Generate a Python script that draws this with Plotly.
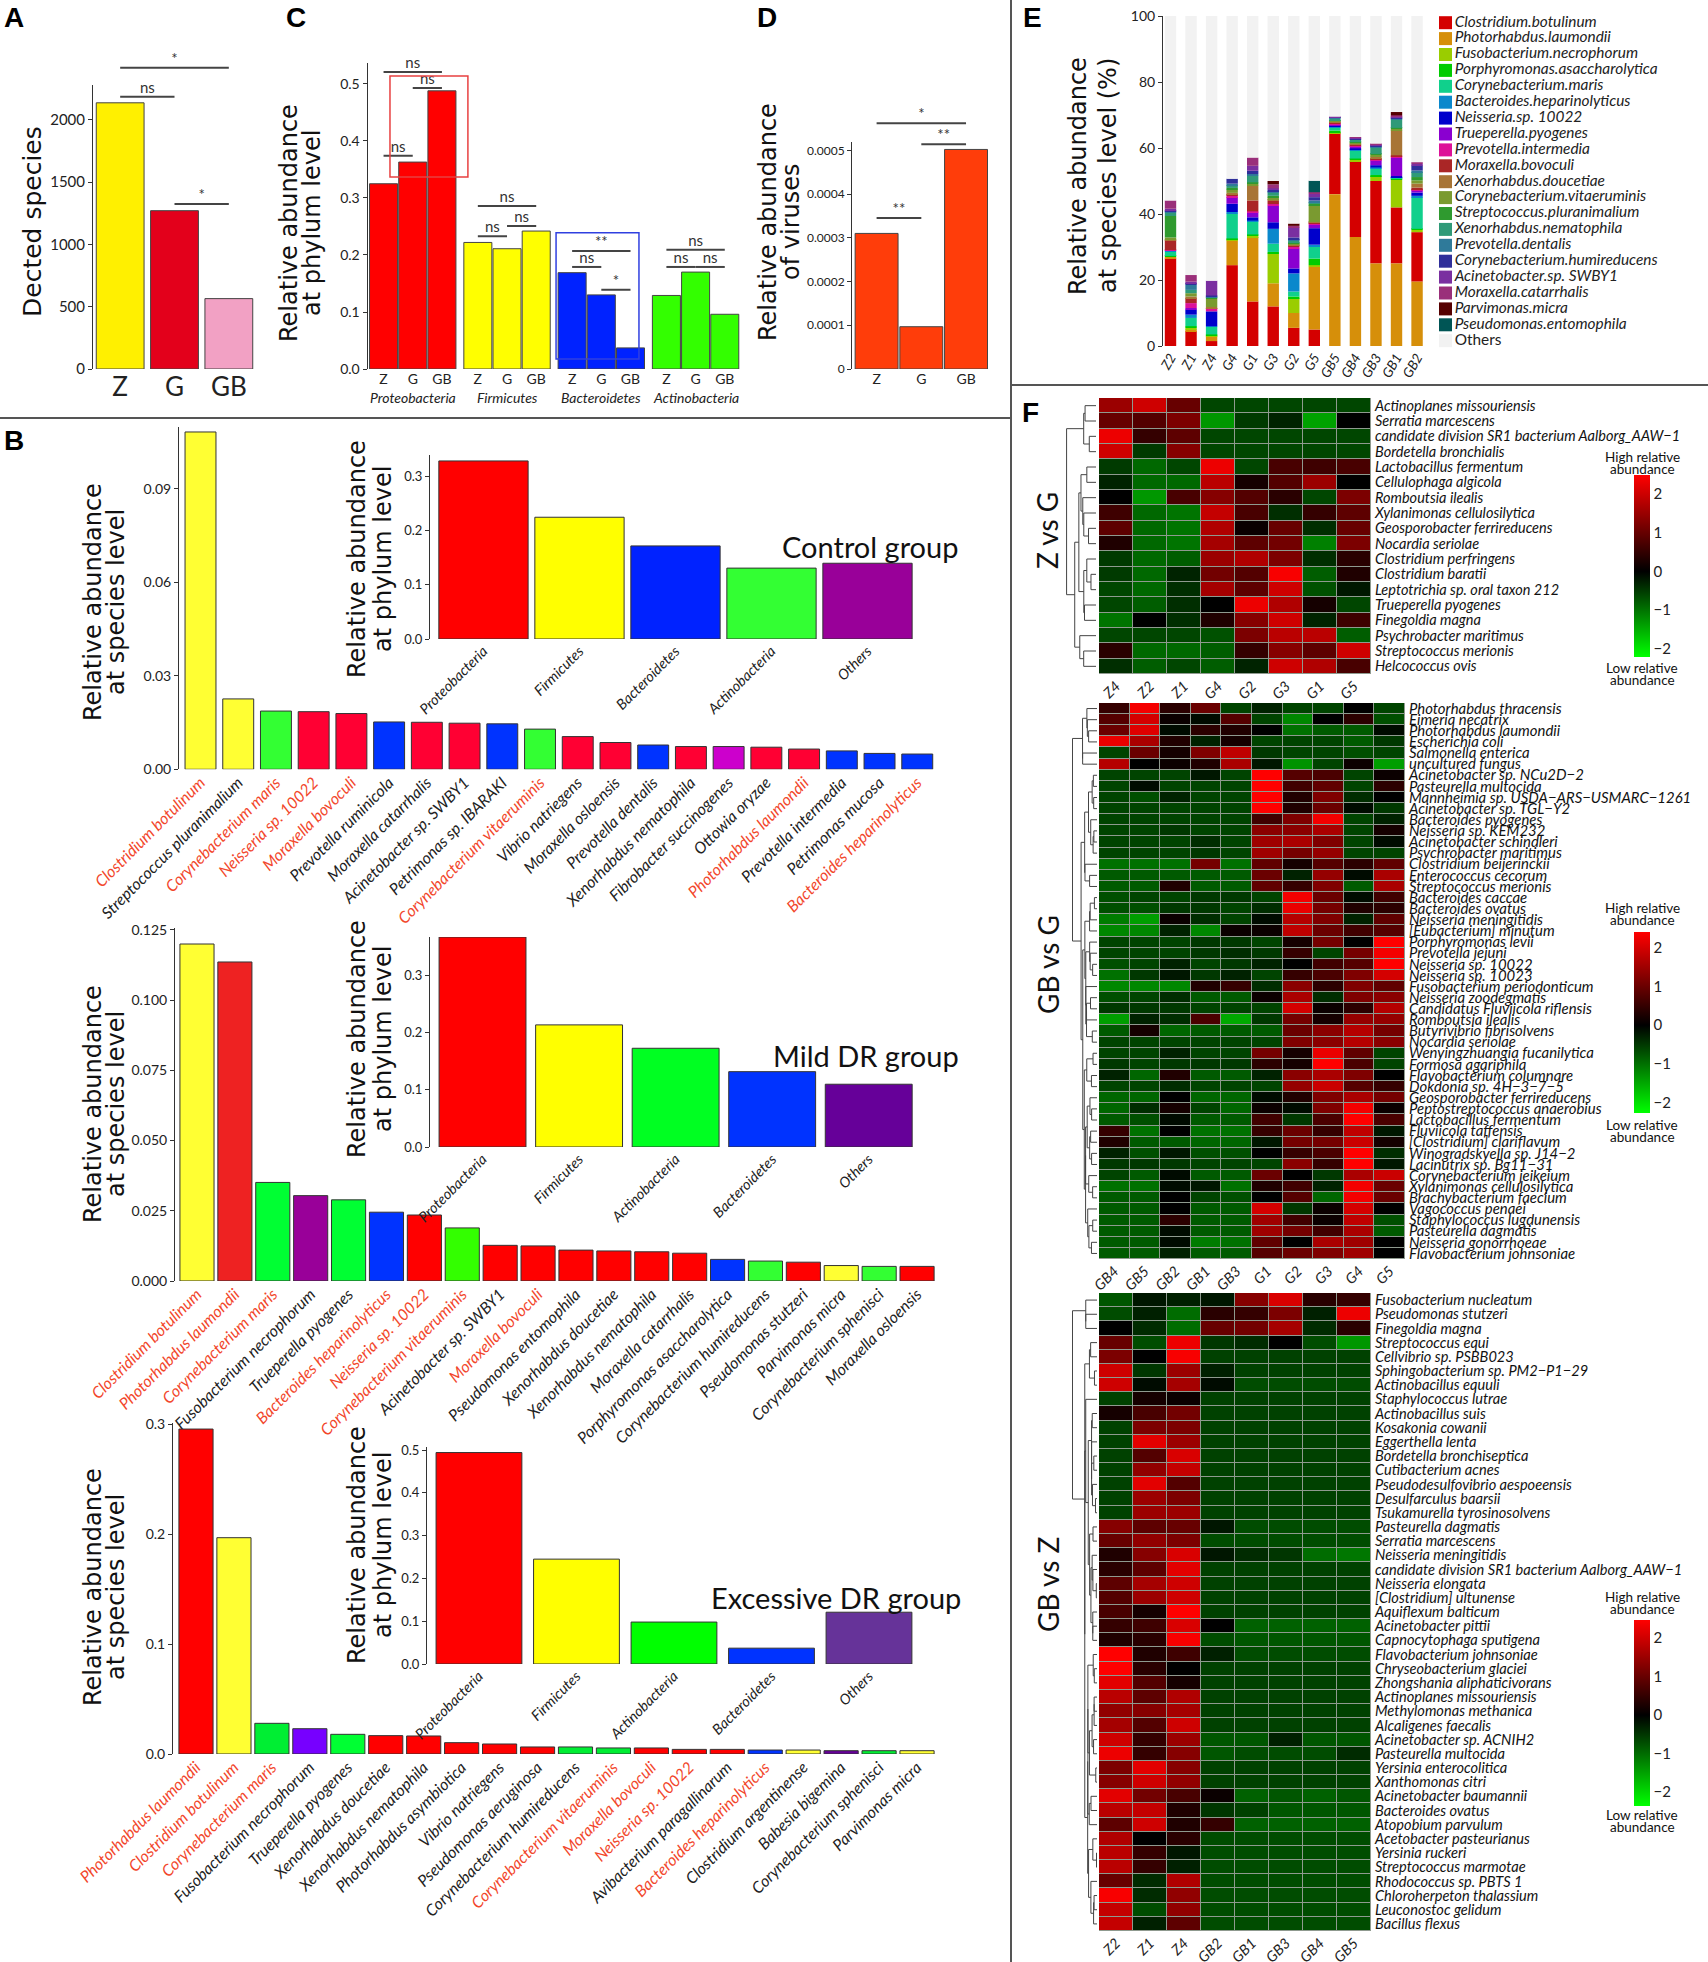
import numpy as np
import plotly.graph_objects as go

W, H = 1708, 1962


def fx(px):
    return px / W


def fy(py):
    return 1 - py / H


# ============================ DATA ============================
# ---- Panel A ----
groups = ['Z', 'G', 'GB']
detected_species = [2137, 1271, 565]
a_colors = ['#fff000', '#e3001b', '#f2a1c4']
a_brackets = [(0, 1, 'ns', 2185), (1, 2, '*', 1325), (0, 2, '*', 2418)]

# ---- Panel C ----
c_phyla = ['Proteobacteria', 'Firmicutes', 'Bacteroidetes', 'Actinobacteria']
c_Z = [0.325, 0.222, 0.169, 0.129]
c_G = [0.363, 0.211, 0.130, 0.170]
c_GB = [0.488, 0.242, 0.037, 0.096]
c_colors = ['#ff0000', '#ffff00', '#0022ff', '#33ff00']
# (phylum index, from group, to group, label, y)
c_brackets = [(0, 0, 2, 'ns', 0.521), (0, 1, 2, 'ns', 0.493), (0, 0, 1, 'ns', 0.374),
              (1, 0, 2, 'ns', 0.286), (1, 1, 2, 'ns', 0.251), (1, 0, 1, 'ns', 0.233),
              (2, 0, 2, '**', 0.207), (2, 0, 1, 'ns', 0.179), (2, 1, 2, '*', 0.139),
              (3, 0, 2, 'ns', 0.209), (3, 0, 1, 'ns', 0.179), (3, 1, 2, 'ns', 0.179)]
# highlight boxes: (phylum index, x from, x to (bar units), y from, y to, colour)
c_boxes = [(0, 0.22, 2.89, 0.337, 0.514, '#e84040'), (2, -0.55, 2.29, 0.0175, 0.239, '#3040e0')]

# ---- Panel D ----
d_virus = [0.000310, 0.0000967, 0.000502]
d_color = '#ff3d0a'
d_ticks = [0, 0.0001, 0.0002, 0.0003, 0.0004, 0.0005]
d_brackets = [(0, 1, '**', 0.000345), (1, 2, '**', 0.000514), (0, 2, '*', 0.000562)]

# ---- Panel E ----
e_samples = ['Z2', 'Z1', 'Z4', 'G4', 'G1', 'G3', 'G2', 'G5', 'GB5', 'GB4', 'GB3', 'GB1', 'GB2']
e_species = ['Clostridium.botulinum', 'Photorhabdus.laumondii', 'Fusobacterium.necrophorum',
             'Porphyromonas.asaccharolytica', 'Corynebacterium.maris', 'Bacteroides.heparinolyticus',
             'Neisseria.sp. 10022', 'Trueperella.pyogenes', 'Prevotella.intermedia', 'Moraxella.bovoculi',
             'Xenorhabdus.doucetiae', 'Corynebacterium.vitaeruminis', 'Streptococcus.pluranimalium',
             'Xenorhabdus.nematophila', 'Prevotella.dentalis', 'Corynebacterium.humireducens',
             'Acinetobacter.sp. SWBY1', 'Moraxella.catarrhalis', 'Parvimonas.micra', 'Pseudomonas.entomophila']
e_colors = ['#d40000', '#d68f0a', '#9acd00', '#00cc00', '#10d08c', '#0a88cc', '#0000cc', '#8a00d0',
            '#dd1199', '#aa2626', '#a87536', '#7a9a30', '#2f9a2f', '#2f9a78', '#2f7a9a', '#2f2f9a',
            '#7a2fa0', '#9a2f7a', '#550000', '#005555']
e_others_color = '#f2f2f2'
e_abundance = [
    [26.5, 4.5, 1.5, 24.5, 13.5, 12.0, 5.5, 5.0, 18.5, 23.0, 25.0, 17.0, 15.0],
    [0.5, 0.5, 1.5, 7.5, 19.5, 7.0, 4.5, 19.0, 46.0, 33.0, 25.0, 25.0, 19.5],
    [0.0, 0.5, 0.3, 0.3, 0.5, 9.0, 4.5, 0.5, 0.3, 0.5, 1.5, 8.5, 0.7],
    [0.3, 0.5, 0.2, 0.3, 0.3, 0.5, 0.5, 2.0, 0.5, 0.3, 0.3, 0.2, 0.3],
    [1.2, 2.5, 2.3, 7.5, 4.0, 2.5, 1.5, 3.5, 1.0, 2.5, 2.0, 0.3, 9.5],
    [0.3, 1.0, 0.2, 0.5, 0.2, 4.5, 5.5, 0.7, 0.3, 0.3, 0.3, 0.2, 0.5],
    [0.0, 1.5, 4.5, 2.5, 1.0, 2.0, 1.5, 5.0, 0.2, 0.3, 0.7, 0.3, 1.0],
    [0.0, 0.5, 0.0, 2.0, 1.5, 5.0, 6.0, 1.0, 0.3, 0.7, 1.5, 5.5, 0.7],
    [0.3, 1.5, 0.8, 0.5, 0.3, 0.5, 0.5, 0.3, 0.2, 0.2, 0.3, 0.3, 0.3],
    [3.0, 1.5, 0.2, 0.3, 3.3, 1.0, 0.5, 0.3, 0.3, 0.2, 0.3, 0.5, 0.5],
    [0.3, 0.5, 0.3, 0.5, 4.5, 0.5, 0.3, 0.3, 0.3, 0.5, 0.5, 7.5, 1.2],
    [0.5, 1.0, 2.5, 1.0, 0.5, 0.5, 0.3, 5.0, 0.3, 0.3, 0.5, 0.5, 1.0],
    [6.5, 0.0, 0.5, 0.5, 0.5, 0.5, 0.3, 0.5, 0.2, 0.2, 0.3, 0.3, 1.0],
    [1.0, 1.0, 0.0, 0.8, 2.0, 1.0, 0.5, 0.5, 0.5, 0.5, 2.0, 2.5, 1.5],
    [0.5, 1.5, 0.2, 0.5, 0.5, 0.3, 0.5, 0.5, 0.2, 0.2, 0.3, 0.3, 0.5],
    [0.2, 0.5, 0.3, 1.5, 1.0, 0.5, 0.5, 1.0, 0.2, 0.2, 0.3, 0.2, 1.5],
    [0.5, 0.5, 4.5, 0.0, 1.5, 0.5, 3.0, 1.0, 0.2, 0.2, 0.2, 0.3, 0.5],
    [2.5, 2.0, 0.0, 0.0, 2.5, 1.2, 0.5, 0.5, 0.0, 0.2, 0.3, 0.5, 0.5],
    [0.0, 0.0, 0.0, 0.0, 0.0, 1.0, 0.7, 0.0, 0.0, 0.0, 0.0, 1.0, 0.0],
    [0.0, 0.0, 0.0, 0.0, 0.0, 0.0, 0.0, 3.5, 0.0, 0.0, 0.0, 0.0, 0.0],
]
# species drawn at the bottom of each stacked bar
e_bottom_species = ['Clostridium.botulinum'] * 8 + ['Photorhabdus.laumondii'] * 5

# ---- Panel B ----
red_label_species = ['Clostridium botulinum', 'Corynebacterium maris', 'Neisseria sp. 10022',
                     'Moraxella bovoculi', 'Corynebacterium vitaeruminis', 'Photorhabdus laumondii',
                     'Bacteroides heparinolyticus']

b_control_species = ['Clostridium botulinum', 'Streptococcus pluranimalium', 'Corynebacterium maris',
                     'Neisseria sp. 10022', 'Moraxella bovoculi', 'Prevotella ruminicola',
                     'Moraxella catarrhalis', 'Acinetobacter sp. SWBY1', 'Petrimonas sp. IBARAKI',
                     'Corynebacterium vitaeruminis', 'Vibrio natriegens', 'Moraxella osloensis',
                     'Prevotella dentalis', 'Xenorhabdus nematophila', 'Fibrobacter succinogenes',
                     'Ottowia oryzae', 'Photorhabdus laumondii', 'Prevotella intermedia',
                     'Petrimonas mucosa', 'Bacteroides heparinolyticus']
b_control_values = [0.1083, 0.0226, 0.0187, 0.0185, 0.0179, 0.0152, 0.0151, 0.0148, 0.0146, 0.0129,
                    0.0105, 0.0086, 0.0078, 0.0073, 0.0073, 0.0071, 0.0065, 0.0059, 0.0051, 0.0049]
b_control_colors = ['#ffff33', '#ffff33', '#33ff33', '#ff0033', '#ff0033', '#0033ff', '#ff0033',
                    '#ff0033', '#0033ff', '#33ff33', '#ff0033', '#ff0033', '#0033ff', '#ff0033',
                    '#cc00cc', '#ff0033', '#ff0033', '#0033ff', '#0033ff', '#0033ff']
b_control_phyla = ['Proteobacteria', 'Firmicutes', 'Bacteroidetes', 'Actinobacteria', 'Others']
b_control_phyla_values = [0.329, 0.225, 0.172, 0.131, 0.140]
b_control_phyla_colors = ['#ff0000', '#ffff00', '#0022ff', '#33ff33', '#990099']

b_mild_species = ['Clostridium botulinum', 'Photorhabdus laumondii', 'Corynebacterium maris',
                  'Fusobacterium necrophorum', 'Trueperella pyogenes', 'Bacteroides heparinolyticus',
                  'Neisseria sp. 10022', 'Corynebacterium vitaeruminis', 'Acinetobacter sp. SWBY1',
                  'Moraxella bovoculi', 'Pseudomonas entomophila', 'Xenorhabdus doucetiae',
                  'Xenorhabdus nematophila', 'Moraxella catarrhalis', 'Porphyromonas asaccharolytica',
                  'Corynebacterium humireducens', 'Pseudomonas stutzeri', 'Parvimonas micra',
                  'Corynebacterium sphenisci', 'Moraxella osloensis']
b_mild_values = [0.1200, 0.1136, 0.0351, 0.0304, 0.0289, 0.0245, 0.0235, 0.0189, 0.0127, 0.0125,
                 0.0110, 0.0107, 0.0104, 0.0099, 0.0077, 0.0071, 0.0067, 0.0055, 0.0052, 0.0052]
b_mild_colors = ['#ffff33', '#ee2222', '#00ff33', '#990099', '#00ff33', '#0033ff', '#ff0000',
                 '#33ff00', '#ff0000', '#ff0000', '#ff0000', '#ff0000', '#ff0000', '#ff0000',
                 '#0033ff', '#33ff33', '#ff0000', '#ffff33', '#33ff33', '#ff0000']
b_mild_phyla = ['Proteobacteria', 'Firmicutes', 'Actinobacteria', 'Bacteroidetes', 'Others']
b_mild_phyla_values = [0.368, 0.214, 0.173, 0.132, 0.110]
b_mild_phyla_colors = ['#ff0000', '#ffff00', '#00ff22', '#0033ff', '#660099']

b_exc_species = ['Photorhabdus laumondii', 'Clostridium botulinum', 'Corynebacterium maris',
                 'Fusobacterium necrophorum', 'Trueperella pyogenes', 'Xenorhabdus doucetiae',
                 'Xenorhabdus nematophila', 'Photorhabdus asymbiotica', 'Vibrio natriegens',
                 'Pseudomonas aeruginosa', 'Corynebacterium humireducens', 'Corynebacterium vitaeruminis',
                 'Moraxella bovoculi', 'Neisseria sp. 10022', 'Avibacterium paragallinarum',
                 'Bacteroides heparinolyticus', 'Clostridium argentinense', 'Babesia bigemina',
                 'Corynebacterium sphenisci', 'Parvimonas micra']
b_exc_values = [0.2955, 0.1967, 0.0279, 0.0230, 0.0179, 0.0167, 0.0164, 0.0103, 0.0091, 0.0064,
                0.0064, 0.0055, 0.0055, 0.0042, 0.0042, 0.0036, 0.0036, 0.0030, 0.0030, 0.0030]
b_exc_colors = ['#ff0000', '#ffff33', '#00ee33', '#7700ff', '#00ff33', '#ff0000', '#ff0000',
                '#ff0000', '#ff0000', '#ff0000', '#00ee33', '#00ee33', '#ff0000', '#ff0000',
                '#ff0000', '#0033ff', '#ffff33', '#660099', '#00ee33', '#ffff33']
b_exc_phyla = ['Proteobacteria', 'Firmicutes', 'Actinobacteria', 'Bacteroidetes', 'Others']
b_exc_phyla_values = [0.494, 0.245, 0.098, 0.037, 0.121]
b_exc_phyla_colors = ['#ff0000', '#ffff00', '#00ff00', '#0033ff', '#663399']

# ---- Panel F: heatmaps (z-scores) ----
h1_cols = ['Z4', 'Z2', 'Z1', 'G4', 'G2', 'G3', 'G1', 'G5']
h1_rows = ['Actinoplanes missouriensis', 'Serratia marcescens',
           'candidate division SR1 bacterium Aalborg_AAW\u22121', 'Bordetella bronchialis',
           'Lactobacillus fermentum', 'Cellulophaga algicola', 'Romboutsia ilealis',
           'Xylanimonas cellulosilytica', 'Geosporobacter ferrireducens', 'Nocardia seriolae',
           'Clostridium perfringens', 'Clostridium baratii', 'Leptotrichia sp. oral taxon 212',
           'Trueperella pyogenes', 'Finegoldia magna', 'Psychrobacter maritimus',
           'Streptococcus merionis', 'Helcococcus ovis']
h1_values = [
    [1.5, 2.0, 1.0, -0.6, -0.6, -0.6, -0.6, -0.6],
    [1.0, 0.8, 1.2, -1.3, -0.5, -0.3, -1.4, 0.0],
    [2.3, 0.5, 0.9, -0.6, -0.6, -0.6, -0.6, -0.6],
    [2.0, -0.5, 1.3, -0.6, -0.6, -0.6, -0.6, -0.6],
    [-0.5, -0.9, -0.6, 2.3, -0.6, 0.7, 0.6, 0.7],
    [-0.3, -0.9, -0.9, 1.8, 0.2, 0.8, 1.5, 0.0],
    [0.0, -1.3, 0.7, 1.3, 0.8, 0.4, -0.6, 1.2],
    [0.6, -0.9, -1.0, 1.9, 0.7, -0.4, 0.5, 0.9],
    [0.9, -0.9, -1.0, 1.7, 0.1, 1.0, -0.4, 1.0],
    [0.3, -0.9, -1.0, 1.6, 0.9, 1.1, -1.1, 1.2],
    [-0.5, -0.9, -0.8, 1.5, 1.7, 1.2, -0.4, 0.4],
    [-0.5, -0.9, -0.3, 1.1, 0.8, 2.4, -0.8, 0.3],
    [-0.6, -0.9, -0.4, 1.6, 0.9, 2.0, -0.7, -0.2],
    [-0.6, -0.8, -0.4, 0.0, 2.3, 1.7, 0.2, -0.6],
    [-1.0, 0.0, -0.4, 0.3, 1.3, 2.0, -0.3, 0.6],
    [-0.6, -0.6, -0.6, -0.7, 1.2, 1.8, 1.8, -0.8],
    [0.4, -0.9, -0.9, -0.8, 0.5, 1.3, 0.9, 2.0],
    [-0.4, -0.8, -0.6, -0.8, -0.3, 2.0, 1.7, 0.7],
]

h2_cols = ['GB4', 'GB5', 'GB2', 'GB1', 'GB3', 'G1', 'G2', 'G3', 'G4', 'G5']
h2_rows = ['Photorhabdus thracensis', 'Eimeria necatrix', 'Photorhabdus laumondii', 'Escherichia coli',
           'Salmonella enterica', 'uncultured fungus', 'Acinetobacter sp. NCu2D\u22122',
           'Pasteurella multocida', 'Mannheimia sp. USDA\u2212ARS\u2212USMARC\u22121261',
           'Acinetobacter sp. TGL\u2212Y2', 'Bacteroides pyogenes', 'Neisseria sp. KEM232',
           'Acinetobacter schindleri', 'Psychrobacter maritimus', 'Clostridium beijerinckii',
           'Enterococcus cecorum', 'Streptococcus merionis', 'Bacteroides caccae', 'Bacteroides ovatus',
           'Neisseria meningitidis', '[Eubacterium] minutum', 'Porphyromonas levii', 'Prevotella jejuni',
           'Neisseria sp. 10022', 'Neisseria sp. 10023', 'Fusobacterium periodonticum',
           'Neisseria zoodegmatis', 'Candidatus Fluviicola riflensis', 'Romboutsia ilealis',
           'Butyrivibrio fibrisolvens', 'Nocardia seriolae', 'Wenyingzhuangia fucanilytica',
           'Formosa agariphila', 'Flavobacterium columnare', 'Dokdonia sp. 4H\u22123\u22127\u22125',
           'Geosporobacter ferrireducens', 'Peptostreptococcus anaerobius', 'Lactobacillus fermentum',
           'Fluviicola taffensis', '[Clostridium] clariflavum', 'Winogradskyella sp. J14\u22122',
           'Lacinutrix sp. Bg11\u221231', 'Corynebacterium jeikeium', 'Xylanimonas cellulosilytica',
           'Brachybacterium faecium', 'Vagococcus penaei', 'Staphylococcus lugdunensis',
           'Pasteurella dagmatis', 'Neisseria gonorrhoeae', 'Flavobacterium johnsoniae']
h2_values = [
    [0.5, 2.3, 0.4, 1.0, -0.6, -0.3, -0.6, -0.6, 0.0, -0.6],
    [0.8, 2.0, 0.1, -0.1, 0.8, -0.6, -1.2, 0.0, 0.4, -0.7],
    [1.0, 2.1, -0.1, 0.4, 0.3, 0.0, -1.0, -0.8, -0.8, -0.1],
    [2.2, 1.6, 0.3, -0.3, 0.2, -0.6, -0.6, -0.6, -0.8, -0.5],
    [-0.6, 1.0, 0.2, 1.2, 1.8, -0.5, -0.6, -0.6, -0.7, -0.6],
    [1.7, 0.0, 0.1, 0.3, 1.6, -0.2, -1.3, -0.6, 0.1, -1.4],
    [-0.6, -0.6, -0.6, -0.2, -0.6, 2.4, 0.8, 0.7, -0.6, 0.1],
    [-0.6, -0.1, -0.6, -0.6, -0.6, 2.4, 0.6, 0.9, -0.6, 0.4],
    [-0.6, -0.7, -0.3, -0.6, -0.6, 2.4, 0.3, 1.2, -0.4, 0.0],
    [-0.6, -0.6, -0.6, -0.6, -0.6, 2.4, 0.3, 1.0, -0.1, -0.5],
    [-0.6, -0.6, -0.6, -0.6, -0.6, 0.6, 1.2, 2.3, -0.6, -0.3],
    [-0.6, -0.6, -0.5, -0.6, -0.6, 1.3, 1.3, 1.6, -0.6, 0.2],
    [-0.6, -0.6, -0.6, -0.4, -0.6, 1.5, 1.6, 1.2, -0.6, -0.1],
    [-0.6, -0.6, -0.6, -0.5, -0.6, 1.5, 1.1, 1.4, -0.6, -0.6],
    [-1.0, -1.0, -1.0, 1.1, -1.0, 0.9, 0.2, 0.8, 0.4, 0.9],
    [-0.8, -0.8, -0.8, -0.8, -0.8, 1.0, -0.3, 1.4, -0.1, 1.6],
    [-0.8, -0.8, 0.3, -0.8, -0.8, 0.9, 0.5, 1.2, -0.8, 1.6],
    [-0.7, -0.6, -0.6, -0.5, -0.5, -0.6, 2.3, 1.0, -0.1, 0.6],
    [-0.7, -0.7, -0.5, -0.5, -0.6, -0.4, 2.2, 1.1, 0.3, 0.4],
    [-1.1, -1.4, 0.1, -0.4, -0.6, -0.1, 1.7, 1.2, -0.3, 0.9],
    [-1.2, -1.2, -0.3, -1.2, 0.1, 0.1, 1.8, 1.0, 0.6, 0.8],
    [-0.6, -0.6, -0.6, -0.5, -0.5, -0.6, 0.2, 1.1, 0.0, 2.4],
    [-0.6, -0.6, -0.6, -0.5, -0.4, -0.5, 0.5, -0.6, 1.1, 2.3],
    [-0.7, -0.6, -0.3, -0.6, -0.5, -0.3, 0.0, 0.6, 0.8, 2.4],
    [-1.0, -0.5, -0.2, -0.5, -0.3, -0.6, 0.5, 0.7, 1.2, 2.0],
    [-1.2, -1.2, -1.2, 0.3, 0.5, -0.4, 1.3, 0.4, 1.2, 0.9],
    [-0.7, -0.6, -0.4, -0.8, -0.8, 0.1, 1.6, -0.4, 1.2, 1.3],
    [-0.5, -0.5, -0.5, -0.6, -0.6, -0.6, 2.0, 0.1, 0.4, 1.7],
    [-1.4, -0.3, -0.4, 0.7, -1.5, -0.5, 1.1, 0.2, 1.4, 1.4],
    [-0.8, 0.2, -0.9, -0.8, -0.8, -0.8, 1.0, 1.3, 1.7, 1.1],
    [-0.6, -0.6, -0.6, -0.6, -0.6, -0.6, 1.2, 1.3, 1.7, 1.3],
    [-0.6, -0.6, -0.3, -0.6, -0.6, 1.1, 0.2, 2.2, 0.9, -0.6],
    [-0.5, -0.6, -0.5, -0.5, -0.5, 0.4, 0.2, 2.5, 0.7, -0.6],
    [-0.3, -0.9, 0.3, -0.8, -0.8, -0.3, 1.3, 1.6, 1.2, 0.0],
    [-0.6, -0.6, -0.4, -0.6, -0.6, -0.6, 1.4, 1.9, 0.8, 0.5],
    [-0.9, -0.9, 0.0, -0.9, -0.9, -0.1, 0.3, 1.2, 1.6, 1.1],
    [-0.9, -0.4, 0.2, -0.6, -0.9, 0.1, -0.1, 1.2, 2.3, 0.1],
    [-0.8, -0.7, -0.1, -0.8, -0.8, 0.6, -0.5, 0.7, 2.4, 0.7],
    [0.5, -1.0, 0.0, -1.0, -1.0, 0.5, 1.0, 0.5, 1.8, -0.2],
    [0.3, -0.8, -0.8, -0.9, -0.9, -0.2, 1.1, 1.1, 1.9, 0.2],
    [-0.3, -0.7, -0.2, -0.7, -0.7, 0.0, 0.5, 0.7, 2.5, -0.4],
    [-0.5, -0.5, -0.5, -0.6, -0.6, -0.6, 1.3, 0.5, 2.4, -0.2],
    [-0.6, -0.8, -0.1, -0.8, -0.8, 1.0, 0.0, -0.5, 1.6, 1.9],
    [-1.0, -1.0, -0.1, -0.2, -1.0, 0.3, 0.6, -0.3, 2.3, 1.0],
    [-0.8, -0.8, 0.0, -0.6, -0.7, 0.0, 0.8, -0.9, 2.3, 1.0],
    [-0.8, -0.8, 0.0, -0.8, -0.8, 2.0, -0.5, 0.1, 2.0, 0.0],
    [-0.8, -0.8, 0.4, -0.8, -0.8, 1.5, 0.6, 0.1, 1.8, -0.7],
    [-0.8, -0.8, -0.1, -0.8, -0.8, 1.5, 1.1, 0.6, 1.6, -0.8],
    [-0.8, -0.8, -0.1, -1.1, -1.0, 0.9, 0.0, 1.6, 1.5, 0.0],
    [-0.8, -0.8, -0.3, -0.8, -0.8, 0.8, 1.0, 1.2, 1.5, 0.0],
]

h3_cols = ['Z2', 'Z1', 'Z4', 'GB2', 'GB1', 'GB3', 'GB4', 'GB5']
h3_rows = ['Fusobacterium nucleatum', 'Pseudomonas stutzeri', 'Finegoldia magna', 'Streptococcus equi',
           'Cellvibrio sp. PSBB023', 'Sphingobacterium sp. PM2\u2212P1\u221229', 'Actinobacillus equuli',
           'Staphylococcus lutrae', 'Actinobacillus suis', 'Kosakonia cowanii', 'Eggerthella lenta',
           'Bordetella bronchiseptica', 'Cutibacterium acnes', 'Pseudodesulfovibrio aespoeensis',
           'Desulfarculus baarsii', 'Tsukamurella tyrosinosolvens', 'Pasteurella dagmatis',
           'Serratia marcescens', 'Neisseria meningitidis',
           'candidate division SR1 bacterium Aalborg_AAW\u22121', 'Neisseria elongata',
           '[Clostridium] ultunense', 'Aquiflexum balticum', 'Acinetobacter pittii',
           'Capnocytophaga sputigena', 'Flavobacterium johnsoniae', 'Chryseobacterium glaciei',
           'Zhongshania aliphaticivorans', 'Actinoplanes missouriensis', 'Methylomonas methanica',
           'Alcaligenes faecalis', 'Acinetobacter sp. ACNIH2', 'Pasteurella multocida',
           'Yersinia enterocolitica', 'Xanthomonas citri', 'Acinetobacter baumannii', 'Bacteroides ovatus',
           'Atopobium parvulum', 'Acetobacter pasteurianus', 'Yersinia ruckeri', 'Streptococcus marmotae',
           'Rhodococcus sp. PBTS 1', 'Chloroherpeton thalassium', 'Leuconostoc gelidum', 'Bacillus flexus']
h3_values = [
    [-0.8, -0.2, -0.3, -0.2, 1.3, 2.1, 0.4, 0.5],
    [-0.7, -0.3, -1.0, 0.4, 0.5, 1.2, -0.3, 2.3],
    [0.0, -0.4, -1.0, 1.0, 1.1, 1.6, -0.4, 0.4],
    [1.0, -0.7, 2.3, -0.5, -0.4, 0.0, -0.7, -1.4],
    [1.2, 0.0, 2.4, -0.6, -0.6, -0.6, -0.6, -0.6],
    [2.0, -0.5, 1.5, -0.3, -0.6, -0.6, -0.6, -0.6],
    [2.0, -0.1, 1.6, -0.1, -0.7, -0.7, -0.7, -0.7],
    [-0.6, 0.2, 0.1, -0.6, -0.6, -0.6, -0.6, -0.6],
    [0.2, 0.7, 1.1, -0.6, -0.6, -0.6, -0.6, -0.6],
    [-0.6, 1.2, 1.2, -0.6, -0.6, -0.6, -0.6, -0.6],
    [-0.6, 2.2, 1.5, -0.6, -0.6, -0.6, -0.6, -0.6],
    [-0.6, 0.8, 2.1, -0.6, -0.6, -0.6, -0.6, -0.6],
    [-0.6, 1.4, 1.9, -0.6, -0.6, -0.6, -0.6, -0.6],
    [-0.6, 2.2, 0.8, -0.6, -0.6, -0.6, -0.6, -0.6],
    [-0.6, 1.5, 1.2, -0.6, -0.6, -0.6, -0.6, -0.6],
    [-0.6, 1.5, 1.5, -0.6, -0.6, -0.6, -0.6, -0.6],
    [1.3, 0.9, 1.0, -0.2, -0.7, -0.7, -0.7, -0.7],
    [1.0, 1.4, 1.2, -0.7, -0.7, -0.7, -0.7, -0.7],
    [0.3, 1.3, 2.1, -0.2, -0.4, -0.5, -1.0, -1.1],
    [0.4, 0.9, 2.2, -0.6, -0.6, -0.6, -0.6, -0.6],
    [0.9, 1.6, 2.0, -0.6, -0.6, -0.6, -0.6, -0.6],
    [0.8, 1.5, 2.0, -0.6, -0.6, -0.6, -0.6, -0.6],
    [0.7, 0.2, 2.5, -0.6, -0.6, -0.6, -0.6, -0.6],
    [0.5, 0.6, 2.1, 0.0, -0.9, -0.9, -0.9, -0.9],
    [0.3, 0.4, 2.4, -0.7, -0.8, -0.8, -0.8, -0.8],
    [2.5, 0.3, 0.6, -0.3, -0.7, -0.7, -0.7, -0.7],
    [2.5, 0.4, 0.0, -0.6, -0.6, -0.6, -0.6, -0.6],
    [2.2, 0.8, 0.2, -0.6, -0.6, -0.6, -0.6, -0.6],
    [1.8, 0.9, 1.7, -0.6, -0.6, -0.6, -0.6, -0.6],
    [1.4, 1.3, 1.6, -0.6, -0.6, -0.6, -0.6, -0.6],
    [1.6, 0.8, 2.0, -0.6, -0.6, -0.6, -0.6, -0.6],
    [2.0, 0.5, 1.5, -0.8, -0.8, -0.3, -0.8, -0.8],
    [2.3, 0.5, 1.3, -0.8, -0.7, -0.7, -0.7, -0.4],
    [1.2, 2.2, 1.3, -0.6, -0.6, -0.6, -0.6, -0.6],
    [1.3, 2.0, 1.4, -0.6, -0.6, -0.6, -0.6, -0.6],
    [2.2, 1.1, 0.7, 0.1, -0.9, -0.8, -0.9, -0.8],
    [1.8, 1.9, 0.3, -0.5, -0.6, -0.8, -0.8, -0.8],
    [0.9, 2.0, 0.3, 0.5, -0.9, -0.9, -0.9, -0.9],
    [1.7, 0.0, 0.4, -0.7, -0.7, -0.7, -0.7, -0.7],
    [1.8, 0.5, -0.2, -0.7, -0.7, -0.7, -0.7, -0.7],
    [1.8, 0.5, -0.3, -0.7, -0.7, -0.7, -0.7, -0.7],
    [1.0, -0.4, 1.7, -0.7, -0.7, -0.7, -0.7, -0.7],
    [2.4, -0.4, 1.4, -0.7, -0.7, -0.7, -0.7, -0.7],
    [1.9, -0.7, 1.4, -0.7, -0.7, -0.7, -0.7, -0.7],
    [1.9, -0.3, 0.9, -0.7, -0.7, -0.7, -0.7, -0.7],
]

# ============================ BUILD ============================
fig = go.Figure()
annotations = []
shapes = []
axes = {}
counter = [0]

TITLE_FONT = 'DejaVu Sans'
BASE_FONT = 'Lato'
RED_LABEL = '#f2472c'


def new_axes(xdom, ydom, xkw, ykw):
    counter[0] += 1
    n = counter[0]
    s = '' if n == 1 else str(n)
    xkw = dict(xkw)
    ykw = dict(ykw)
    xkw.update(domain=[fx(xdom[0]), fx(xdom[1])], anchor='y' + s, automargin=False, fixedrange=True)
    ykw.update(domain=[fy(ydom[0]), fy(ydom[1])], anchor='x' + s, automargin=False, fixedrange=True)
    axes['xaxis' + s] = xkw
    axes['yaxis' + s] = ykw
    return 'x' + s, 'y' + s


def new_ext_yaxis(anchor_x, ydom, yrange, ext_top_px):
    """hidden y axis with the same scale as the main one but taller (for brackets)."""
    counter[0] += 1
    s = str(counter[0])
    scale = (ydom[0] - ydom[1]) / (yrange[1] - yrange[0])
    top = yrange[0] + (ydom[0] - ext_top_px) / scale
    axes['yaxis' + s] = dict(domain=[fy(ydom[0]), fy(ext_top_px)], range=[yrange[0], top],
                             visible=False, anchor=anchor_x, automargin=False, fixedrange=True)
    return 'y' + s


def yaxis_style(rng, tickvals, ticktext, size=14):
    return dict(range=list(rng), showline=True, linecolor='#333', linewidth=1,
                ticks='outside', ticklen=4, tickwidth=1, tickcolor='#333',
                showgrid=False, zeroline=False, tickmode='array', tickvals=list(tickvals),
                ticktext=list(ticktext), tickfont=dict(family=BASE_FONT, size=size, color='#222'))


def xaxis_style(rng, tickvals, ticktext, size=14, angle=0):
    return dict(range=list(rng), showline=False, ticks='', showgrid=False, zeroline=False,
                tickmode='array', tickvals=list(tickvals), ticktext=list(ticktext), tickangle=angle,
                tickfont=dict(family=BASE_FONT, size=size, color='#222'))


def ann(text, x, y, size=14, family=BASE_FONT, color='#111', angle=0, xanchor='center', yanchor='middle'):
    annotations.append(dict(text=text, x=fx(x), y=fy(y), xref='paper', yref='paper', showarrow=False,
                            font=dict(family=family, size=size, color=color), textangle=angle,
                            xanchor=xanchor, yanchor=yanchor))


def vtitle(lines, xs, yc, size=24):
    for line, x in zip(lines, xs):
        ann(line, x, yc, size=size, family=TITLE_FONT, angle=-90)


def add_brackets(xref, yref, items):
    lx, ly, tx, ty, tt = [], [], [], [], []
    for x0, x1, lab, yv in items:
        lx += [x0, x1, None]
        ly += [yv, yv, None]
        tx.append((x0 + x1) / 2)
        ty.append(yv)
        tt.append(lab)
    fig.add_trace(go.Scatter(x=lx, y=ly, mode='lines', line=dict(color='#444', width=2),
                             xaxis=xref, yaxis=yref, hoverinfo='skip'))
    fig.add_trace(go.Scatter(x=tx, y=ty, mode='text', text=tt, textposition='top center',
                             textfont=dict(family=BASE_FONT, size=15, color='#333'),
                             xaxis=xref, yaxis=yref, hoverinfo='skip'))


# ---------------- Panel A ----------------
a_x = list(range(len(groups)))
a_dom_y = (369, 85)
a_range_y = (0, 2280)
a_ticks = [0, 500, 1000, 1500, 2000]
xa, ya = new_axes((93, 256), a_dom_y,
                  xaxis_style([-0.5, 2.5], a_x, groups, size=26),
                  yaxis_style(a_range_y, a_ticks, [str(t) for t in a_ticks], size=15))
fig.add_trace(go.Bar(x=a_x, y=detected_species, width=0.88,
                     marker=dict(color=a_colors, line=dict(color='#444', width=1)),
                     xaxis=xa, yaxis=ya))
yb = new_ext_yaxis(xa, a_dom_y, a_range_y, 40)
add_brackets(xa, yb, a_brackets)
vtitle(['Dected species'], [32], 222, size=25)

# ---------------- Panel C ----------------
c_gap = 3.23
c_x, c_y, c_col, c_lab = [], [], [], []
for g in range(len(c_phyla)):
    for i, vals in enumerate([c_Z, c_G, c_GB]):
        c_x.append(g * c_gap + i)
        c_y.append(vals[g])
        c_col.append(c_colors[g])
        c_lab.append(groups[i])
c_dom_y = (369, 63)
c_range_y = (0, 0.5368)
c_ticks = [0, 0.1, 0.2, 0.3, 0.4, 0.5]
xc, yc_ = new_axes((367.5, 742), c_dom_y,
                   xaxis_style([-0.55, 12.28], c_x, c_lab, size=14),
                   yaxis_style(c_range_y, c_ticks, ['%.1f' % t for t in c_ticks], size=14))
fig.add_trace(go.Bar(x=c_x, y=c_y, width=0.96,
                     marker=dict(color=c_col, line=dict(color='#444', width=1)),
                     xaxis=xc, yaxis=yc_))
ycb = new_ext_yaxis(xc, c_dom_y, c_range_y, 40)
add_brackets(xc, ycb, [(g * c_gap + a, g * c_gap + b, lab, yv) for g, a, b, lab, yv in c_brackets])
for g, x0, x1, y0, y1, col in c_boxes:
    shapes.append(dict(type='rect', xref=xc, yref=ycb, x0=g * c_gap + x0, x1=g * c_gap + x1,
                       y0=y0, y1=y1, line=dict(color=col, width=1.5), fillcolor='rgba(0,0,0,0)'))
for g, name in enumerate(c_phyla):
    annotations.append(dict(text='<i>%s</i>' % name, x=g * c_gap + 1, y=fy(397), xref=xc, yref='paper',
                            showarrow=False, yanchor='middle',
                            font=dict(family=BASE_FONT, size=14, color='#222')))
vtitle(['Relative abundance', 'at phylum level'], [289, 312], 223)

# ---------------- Panel D ----------------
d_x = list(range(len(groups)))
d_dom_y = (369, 142)
d_range_y = (0, 0.000519)
xd, yd = new_axes((852, 988.4), d_dom_y,
                  xaxis_style([-0.55, 2.5], d_x, groups, size=14),
                  yaxis_style(d_range_y, d_ticks, ['%g' % t for t in d_ticks], size=12))
fig.add_trace(go.Bar(x=d_x, y=d_virus, width=0.96,
                     marker=dict(color=d_color, line=dict(color='#444', width=1)),
                     xaxis=xd, yaxis=yd))
ydb = new_ext_yaxis(xd, d_dom_y, d_range_y, 40)
add_brackets(xd, ydb, d_brackets)
vtitle(['Relative abundance', 'of viruses'], [768, 791], 222)

# ---------------- Panel E ----------------
e_arr = np.array(e_abundance, dtype=float)
n_sp, n_s = e_arr.shape
e_base = np.zeros_like(e_arr)
for j in range(n_s):
    first = e_species.index(e_bottom_species[j])
    order = [first] + [i for i in range(n_sp) if i != first]
    cum = 0.0
    for i in order:
        e_base[i, j] = cum
        cum += e_arr[i, j]
e_total = e_arr.sum(axis=0)
e_ticks = [0, 20, 40, 60, 80, 100]
xe, ye = new_axes((1163, 1430), (346, 16),
                  xaxis_style([-0.365, 12.63], e_samples, ['<i>%s</i>' % s for s in e_samples],
                              size=13.5, angle=-60),
                  yaxis_style([0, 100], e_ticks, [str(t) for t in e_ticks], size=14))
axes['xaxis' + xe[1:]]['type'] = 'category'
for i in range(n_sp):
    fig.add_trace(go.Bar(x=e_samples, y=e_arr[i], base=e_base[i], width=0.555,
                         marker=dict(color=e_colors[i], line=dict(width=0)), xaxis=xe, yaxis=ye))
fig.add_trace(go.Bar(x=e_samples, y=100 - e_total, base=e_total, width=0.555,
                     marker=dict(color=e_others_color, line=dict(width=0)), xaxis=xe, yaxis=ye))
vtitle(['Relative abundance', 'at species level (%)'], [1078, 1108], 176)

# legend of E as its own small axis
leg_labels = ['<i>%s</i>' % s for s in e_species] + ['Others']
leg_colors = e_colors + [e_others_color]
n_leg = len(leg_labels)
xl, yl = new_axes((1445.5, 1700), (348.65, 14.75),
                  dict(visible=False, range=[0, 1]), dict(visible=False, range=[n_leg - 0.5, -0.5]))
fig.add_trace(go.Scatter(x=[0] * n_leg, y=list(range(n_leg)), mode='markers+text', text=leg_labels,
                         textposition='middle right',
                         textfont=dict(family=BASE_FONT, size=15.4, color='#222'),
                         marker=dict(symbol='square', size=13, color=leg_colors, line=dict(width=0)),
                         xaxis=xl, yaxis=yl, hoverinfo='skip', cliponaxis=False))


# ---------------- Panel B ----------------
def styled_label(name):
    if name in red_label_species:
        return "<span style='color:%s'><i>%s</i></span>" % (RED_LABEL, name)
    return '<i>%s</i>' % name


b_panels = [
    dict(species=b_control_species, values=b_control_values, colors=b_control_colors,
         phyla=b_control_phyla, pvals=b_control_phyla_values, pcolors=b_control_phyla_colors,
         label='Control group', mx=(179, 938), my=(769.3, 427), mrx=(-0.57, 19.55), mry=(0, 0.1099),
         mticks=[0, 0.03, 0.06, 0.09], mfmt='%.2f', mwidth=0.82,
         ix=(430, 915.5), iy=(639, 455), irx=(-0.557, 4.5), iry=(0, 0.340),
         iticks=[0, 0.1, 0.2, 0.3], iwidth=0.93,
         title_y=602, ititle_y=559, label_xy=(869.5, 547)),
    dict(species=b_mild_species, values=b_mild_values, colors=b_mild_colors,
         phyla=b_mild_phyla, pvals=b_mild_phyla_values, pcolors=b_mild_phyla_colors,
         label='Mild DR group', mx=(175, 936), my=(1281, 928), mrx=(-0.58, 19.5), mry=(0, 0.1257),
         mticks=[0, 0.025, 0.05, 0.075, 0.1, 0.125], mfmt='%.3f', mwidth=0.9,
         ix=(430, 917), iy=(1147, 937), irx=(-0.544, 4.5), iry=(0, 0.368),
         iticks=[0, 0.1, 0.2, 0.3], iwidth=0.9,
         title_y=1104, ititle_y=1039, label_xy=(866, 1055)),
    dict(species=b_exc_species, values=b_exc_values, colors=b_exc_colors,
         phyla=b_exc_phyla, pvals=b_exc_phyla_values, pcolors=b_exc_phyla_colors,
         label='Excessive DR group', mx=(173, 936), my=(1754, 1423), mrx=(-0.606, 19.5), mry=(0, 0.301),
         mticks=[0, 0.1, 0.2, 0.3], mfmt='%.1f', mwidth=0.9,
         ix=(427, 917.75), iy=(1664, 1447), irx=(-0.533, 4.5), iry=(0, 0.507),
         iticks=[0, 0.1, 0.2, 0.3, 0.4, 0.5], iwidth=0.88,
         title_y=1587, ititle_y=1545, label_xy=(835.5, 1597)),
]

for p in b_panels:
    xm, ym = new_axes(p['mx'], p['my'],
                      xaxis_style(p['mrx'], p['species'], [styled_label(s) for s in p['species']],
                                  size=16, angle=-45),
                      yaxis_style(p['mry'], p['mticks'], [p['mfmt'] % t for t in p['mticks']], size=14))
    axes['xaxis' + xm[1:]]['type'] = 'category'
    fig.add_trace(go.Bar(x=p['species'], y=p['values'], width=p['mwidth'],
                         marker=dict(color=p['colors'], line=dict(color='#333', width=1)),
                         xaxis=xm, yaxis=ym))
    xi, yi = new_axes(p['ix'], p['iy'],
                      xaxis_style(p['irx'], p['phyla'], ['<i>%s</i>' % s for s in p['phyla']],
                                  size=14.5, angle=-45),
                      yaxis_style(p['iry'], p['iticks'], ['%.1f' % t for t in p['iticks']], size=13))
    axes['xaxis' + xi[1:]]['type'] = 'category'
    fig.add_trace(go.Bar(x=p['phyla'], y=p['pvals'], width=p['iwidth'],
                         marker=dict(color=p['pcolors'], line=dict(color='#333', width=1)),
                         xaxis=xi, yaxis=yi))
    vtitle(['Relative abundance', 'at species level'], [93, 116], p['title_y'])
    vtitle(['Relative abundance', 'at phylum level'], [357, 383], p['ititle_y'])
    ann(p['label'], p['label_xy'][0], p['label_xy'][1], size=29, family=BASE_FONT, color='#111')


# ---------------- Panel F heatmaps ----------------
def rg_scale(zmin, zmax):
    m = -zmin / (zmax - zmin)
    return [[0, '#00ff00'], [m, '#000000'], [1, '#ff0000']]


def dendrogram_lines(mat):
    mat = np.asarray(mat, dtype=float)
    clusters = [dict(members=[i], pos=float(i), h=0.0) for i in range(len(mat))]
    xs, ys = [], []
    h = 0.0
    while len(clusters) > 1:
        best = None
        for k in range(len(clusters) - 1):
            a, b = clusters[k], clusters[k + 1]
            d = np.mean([np.linalg.norm(mat[i] - mat[j]) for i in a['members'] for j in b['members']])
            if best is None or d < best[0]:
                best = (d, k)
        d, k = best
        a, b = clusters[k], clusters[k + 1]
        h = max(d, a['h'], b['h'])
        xs += [a['h'], h, h, b['h'], None]
        ys += [a['pos'], a['pos'], b['pos'], b['pos'], None]
        clusters[k:k + 2] = [dict(members=a['members'] + b['members'], pos=(a['pos'] + b['pos']) / 2, h=h)]
    return xs, ys, h


def build_heatmap(rows, cols, vals, xdom, ydom, dxdom, zrange, cb, label_size, title, title_xy,
                  hi_y, lo_y):
    n = len(rows)
    xh, yh = new_axes(xdom, ydom,
                      dict(type='category', range=[-0.5, len(cols) - 0.5], showline=False, ticks='',
                           showgrid=False, zeroline=False, tickangle=-45, tickmode='array',
                           tickvals=cols, ticktext=['<i>%s</i>' % c for c in cols],
                           tickfont=dict(family=BASE_FONT, size=14.5, color='#222')),
                      dict(type='category', range=[n - 0.5, -0.5], side='right', showline=False, ticks='',
                           showgrid=False, zeroline=False, tickmode='array', tickvals=rows,
                           ticktext=['<i>%s</i>' % r for r in rows], ticklabelstandoff=3,
                           tickfont=dict(family=BASE_FONT, size=label_size, color='#111')))
    zmin, zmax = zrange
    fig.add_trace(go.Heatmap(z=vals, x=cols, y=rows, zmin=zmin, zmax=zmax, colorscale=rg_scale(zmin, zmax),
                             xgap=1, ygap=1, xaxis=xh, yaxis=yh,
                             colorbar=dict(x=fx(1634), xanchor='left', y=fy(cb[0]), yanchor='top',
                                           len=(cb[1] - cb[0]) / H, lenmode='fraction', thickness=16,
                                           thicknessmode='pixels', outlinewidth=0, tickmode='array',
                                           tickvals=[-2, -1, 0, 1, 2], ticks='', xpad=0, ypad=0,
                                           tickfont=dict(family=BASE_FONT, size=15, color='#222'))))
    shapes.append(dict(type='rect', xref=xh + ' domain', yref=yh + ' domain', x0=0, x1=1, y0=0, y1=1,
                       fillcolor='#8f9a8f', line=dict(width=0), layer='below'))
    xs, ys, hmax = dendrogram_lines(vals)
    xdn, ydn = new_axes(dxdom, ydom, dict(visible=False, range=[hmax * 1.02, 0]),
                        dict(visible=False, range=[n - 0.5, -0.5]))
    fig.add_trace(go.Scatter(x=xs, y=ys, mode='lines', line=dict(color='#444', width=1),
                             xaxis=xdn, yaxis=ydn, hoverinfo='skip'))
    ann(title, title_xy[0], title_xy[1], size=28, family=BASE_FONT, angle=-90)
    ann('High relative', 1642, hi_y, size=13.5)
    ann('abundance', 1642, hi_y + 12, size=13.5)
    ann('Low relative', 1642, lo_y, size=13.5)
    ann('abundance', 1642, lo_y + 12, size=13.5)


build_heatmap(h1_rows, h1_cols, h1_values, (1099, 1371), (674, 398), (1066, 1096), (-2.2, 2.47),
              (475, 657), 14.5, 'Z vs G', (1047, 531), 457, 668)
build_heatmap(h2_rows, h2_cols, h2_values, (1099, 1405), (1259, 703), (1072, 1097), (-2.26, 2.4),
              (932, 1113), 14.9, 'GB vs G', (1048, 965), 908, 1125)
build_heatmap(h3_rows, h3_cols, h3_values, (1099, 1371), (1931, 1293), (1072, 1097), (-2.36, 2.47),
              (1620, 1806), 14.6, 'GB vs Z', (1048, 1585), 1597, 1815)

# ---------------- panel letters & separators ----------------
for letter, x, y in [('A', 14, 17), ('B', 14, 441), ('C', 296, 17), ('D', 767, 17),
                     ('E', 1032, 17), ('F', 1030, 412)]:
    ann('<b>%s</b>' % letter, x, y, size=28, family='Liberation Sans', color='#000')

shapes.append(dict(type='line', xref='paper', yref='paper', x0=fx(1011), x1=fx(1011), y0=0, y1=1,
                   line=dict(color='#555', width=2)))
shapes.append(dict(type='line', xref='paper', yref='paper', x0=0, x1=fx(1011), y0=fy(418), y1=fy(418),
                   line=dict(color='#555', width=2)))
shapes.append(dict(type='line', xref='paper', yref='paper', x0=fx(1011), x1=1, y0=fy(385), y1=fy(385),
                   line=dict(color='#555', width=2)))

fig.update_layout(width=W, height=H, margin=dict(l=0, r=0, t=0, b=0, autoexpand=False),
                  paper_bgcolor='white', plot_bgcolor='rgba(0,0,0,0)', showlegend=False, barmode='overlay',
                  font=dict(family=BASE_FONT, color='#222'),
                  annotations=annotations, shapes=shapes, **axes)

fig.write_html("out.html", config={'displayModeBar': False, 'responsive': False},
               post_script="document.body.style.margin='0';")
